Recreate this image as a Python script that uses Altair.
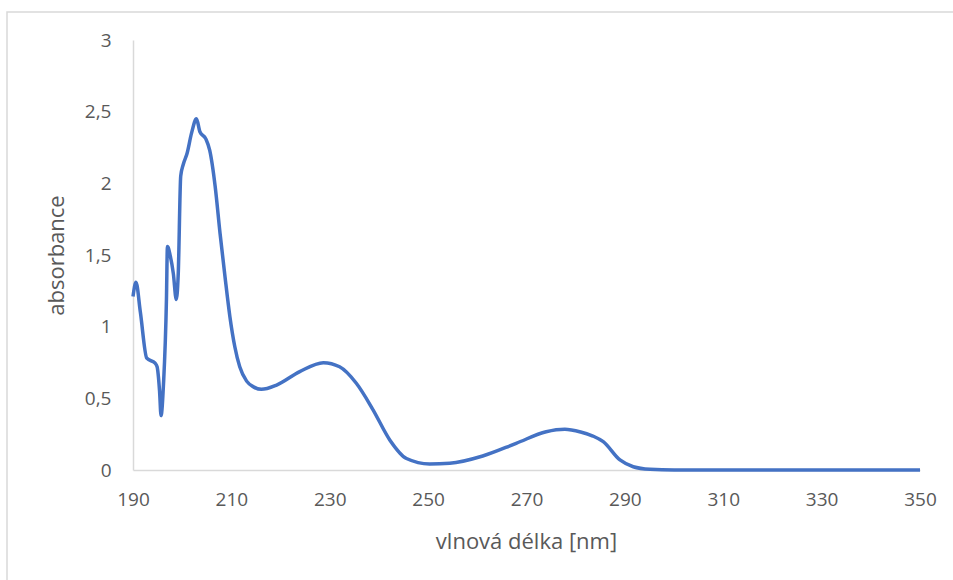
import altair as alt
import pandas as pd

wavelength = [190.0, 190.6, 191.5, 192.8, 194.5, 194.9, 195.4, 195.7, 196.2, 196.8, 197.0, 197.6,
              198.2, 198.8, 199.2, 199.7, 200.2, 201.0, 201.9, 202.9, 203.6, 204.8, 205.6, 206.7,
              207.7, 208.7, 209.7, 210.7, 211.7, 213.1, 214.5, 216.1, 219.2, 223.9, 228.7, 232.0,
              235.4, 238.8, 242.2, 245.6, 250.3, 254.4, 261.1, 267.9, 274.0, 277.8, 281.0, 283.5,
              285.6, 289.0, 291.7, 295.1, 300.0, 320.0, 350.0]
absorbance = [1.21, 1.31, 1.10, 0.78, 0.745, 0.72, 0.55, 0.38, 0.60, 1.19, 1.56, 1.49,
              1.37, 1.19, 1.37, 2.05, 2.13, 2.21, 2.35, 2.45, 2.36, 2.31, 2.23, 1.98,
              1.65, 1.35, 1.07, 0.86, 0.72, 0.62, 0.58, 0.563, 0.593, 0.686, 0.749, 0.72,
              0.605, 0.42, 0.21, 0.08, 0.042, 0.047, 0.098, 0.186, 0.267, 0.284, 0.265, 0.237,
              0.198, 0.07, 0.023, 0.005, 0.0, 0.0, 0.0]

x_ticks = [190, 210, 230, 250, 270, 290, 310, 330, 350]
y_ticks = [0, 0.5, 1, 1.5, 2, 2.5, 3]

df = pd.DataFrame({"wl": wavelength, "abs": absorbance})

FONT = "Open Sans"
GRAY = "#595959"

frame = alt.Chart(pd.DataFrame({"a": [0]})).mark_rect(
    fill=None, stroke="#d9d9d9", strokeWidth=1.5
).encode(
    x=alt.value(-126), x2=alt.value(830), y=alt.value(-28), y2=alt.value(560)
)

line = alt.Chart(df).mark_line(
    color="#4472C4", strokeWidth=3.5, interpolate="monotone"
).encode(
    x=alt.X("wl:Q",
            scale=alt.Scale(domain=[190, 350], nice=False, zero=False),
            axis=alt.Axis(values=x_ticks, title="vlnová délka [nm]", grid=False,
                          ticks=False, domainColor="#d9d9d9", domainWidth=1.5,
                          labelFlush=False, labelOverlap=False,
                          labelPadding=20, labelFontSize=19, labelColor=GRAY,
                          labelFont=FONT, titleFont=FONT, titleFontSize=22,
                          titleFontWeight="normal", titleColor=GRAY,
                          titleX=393, titleY=71, titleBaseline="middle")),
    y=alt.Y("abs:Q",
            scale=alt.Scale(domain=[0, 3], nice=False),
            axis=alt.Axis(values=y_ticks, title="absorbance", grid=False,
                          ticks=False, domainColor="#d9d9d9", domainWidth=1.5,
                          labelPadding=22, labelFontSize=19, labelColor=GRAY,
                          labelFont=FONT, titleFont=FONT, titleFontSize=22,
                          titleFontWeight="normal", titleColor=GRAY,
                          labelExpr="replace(toString(datum.value), '.', ',')",
                          titleX=-77, titleY=215, titleAngle=-90,
                          titleAlign="center", titleBaseline="middle")),
)

chart = alt.layer(frame, line).properties(
    width=787, height=430,
    autosize=alt.AutoSizeParams(type="none"),
    padding={"left": 133, "top": 40, "right": 33, "bottom": 110},
    background="white",
).configure_view(stroke=None)

chart.save("out.html", embed_options={"renderer": "svg", "actions": False})
